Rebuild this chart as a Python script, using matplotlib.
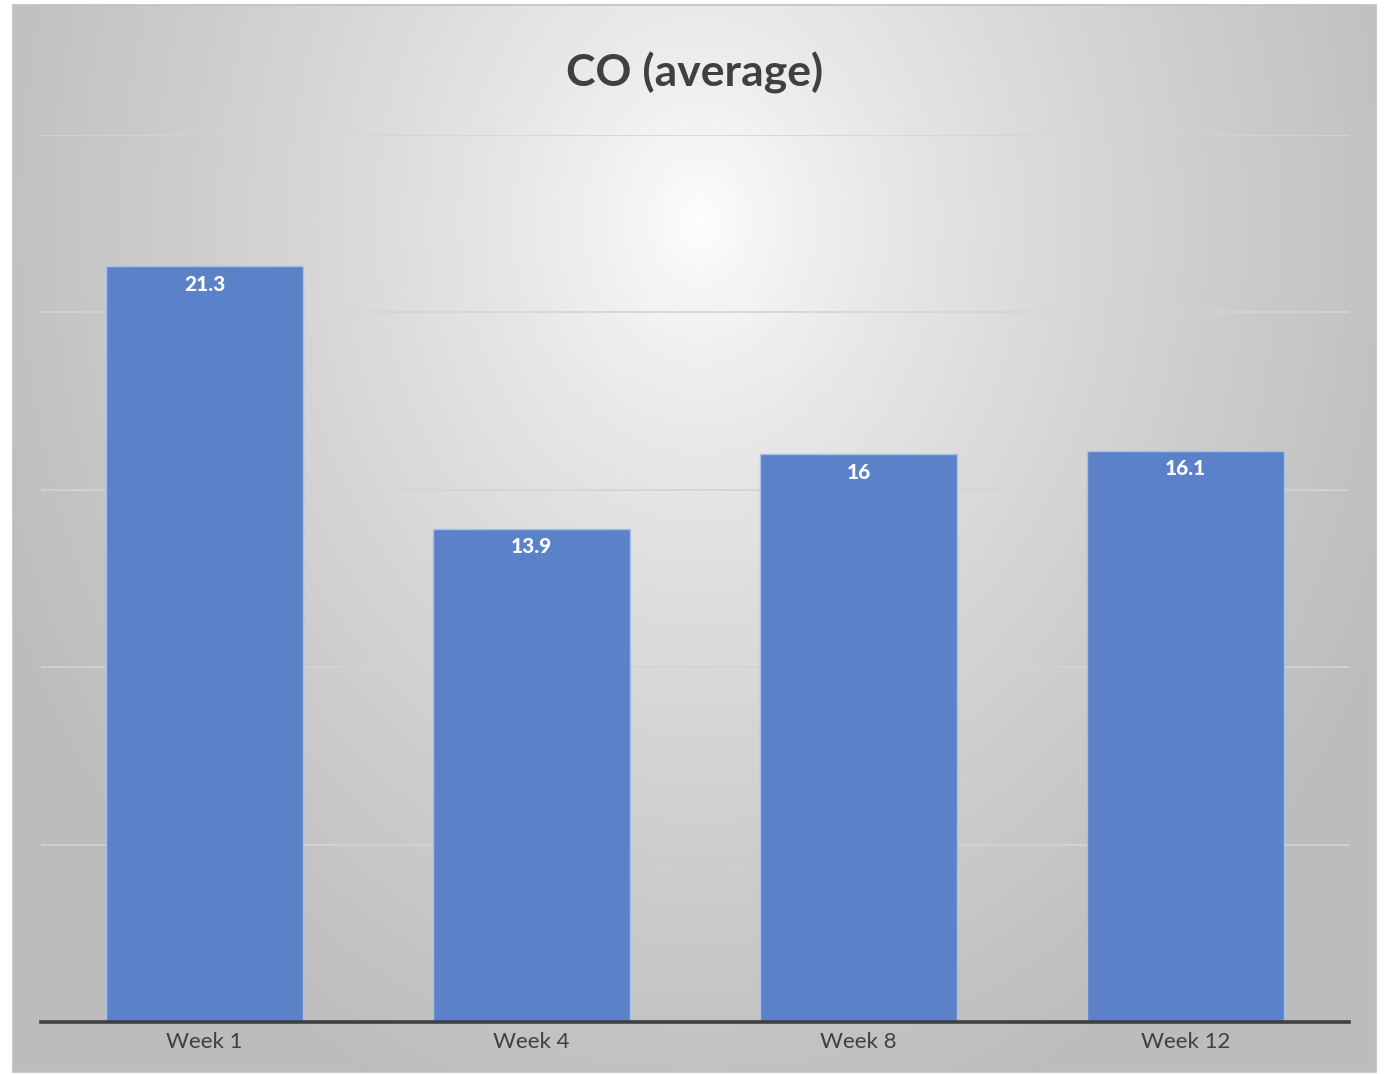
import numpy as np
import matplotlib.pyplot as plt
from matplotlib.patches import Rectangle

categories = ["Week 1", "Week 4", "Week 8", "Week 12"]
co_average = [21.3, 13.9, 16.0, 16.1]
value_labels = ["21.3", "13.9", "16", "16.1"]

W, H = 1386, 1074
fig = plt.figure(figsize=(W / 100, H / 100), dpi=100)
fig.patch.set_facecolor("white")

# chart area with a radial grey gradient, bright near the top centre
x0, y0, x1, y1 = 13, 5, 1376, 1072
bg = fig.add_axes([x0 / W, 1 - y1 / H, (x1 - x0) / W, (y1 - y0) / H])
gx, gy = np.meshgrid(np.linspace(x0, x1, 400), np.linspace(y0, y1, 320))
r = np.hypot((gx - 700) / 760, (gy - 220) / 950)
shade = np.clip(1.0 - 0.26 * np.clip(r, 0, 1) ** 0.75, 0.74, 1.0)
bg.imshow(np.dstack([shade] * 3), extent=[0, 1, 0, 1], aspect="auto", interpolation="bilinear")
bg.set_xlim(0, 1)
bg.set_ylim(0, 1)
bg.axis("off")
bg.add_patch(Rectangle((0, 0), 1, 1, transform=bg.transAxes, fill=False,
                       edgecolor="#bfbfbf", linewidth=1.2, clip_on=False))

# plot area
px0, px1, py_top, py_base = 41, 1349, 135, 1022
ax = fig.add_axes([px0 / W, 1 - py_base / H, (px1 - px0) / W, (py_base - py_top) / H])
ax.set_facecolor("none")

x = np.arange(len(categories))
ax.set_axisbelow(True)
ax.yaxis.grid(True, color="#d4d4d4", linewidth=1.2)
bars = ax.bar(x, co_average, width=0.6, color="#5b81c8", edgecolor="#a9c0e6", linewidth=1.0, zorder=2)

for b, lab in zip(bars, value_labels):
    ax.annotate(lab, (b.get_x() + b.get_width() / 2, b.get_height()), xytext=(0, -6),
                textcoords="offset points", ha="center", va="top", color="white",
                fontsize=15, fontweight="black", family="Lato", zorder=3)

ax.set_xlim(-0.5, 3.5)
ax.set_ylim(0, 25)
ax.set_yticks([0, 5, 10, 15, 20, 25])
ax.set_xticks(x)
ax.set_xticklabels(categories, fontsize=16, family="Lato", color="#404040")
ax.tick_params(axis="x", length=0, pad=7)
ax.tick_params(axis="y", left=False, labelleft=False)
for s in ["top", "right", "left"]:
    ax.spines[s].set_visible(False)
ax.spines["bottom"].set_color("#404040")
ax.spines["bottom"].set_linewidth(2.6)
ax.spines["bottom"].set_zorder(4)

fig.text(695 / W, 1 - 73 / H, "CO (average)", ha="center", va="center",
         fontsize=32, fontweight="bold", family="Lato", color="#404040")

fig.savefig("out.png", dpi=100)
